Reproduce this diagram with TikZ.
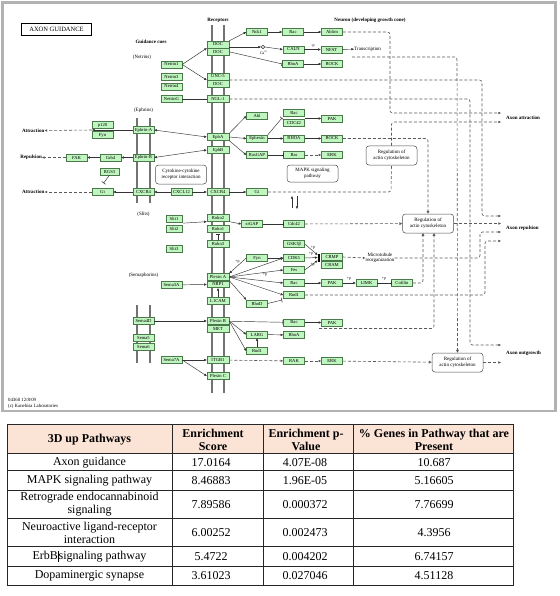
\documentclass[tikz,border=0pt]{standalone}
\usepackage{fontspec}
\setmainfont{Liberation Serif}
\usetikzlibrary{arrows.meta}
\definecolor{gfill}{HTML}{BFF5BF}
\definecolor{gedge}{HTML}{4A7A4A}
\definecolor{hdr}{HTML}{FBE4D5}
\newcommand\kgf{\fontsize{4.6}{5}\selectfont}
\newcommand\klf{\fontsize{5}{5.6}\selectfont}
\newcommand\ksf{\fontsize{4}{4.5}\selectfont}
\newcommand\ktf{\fontsize{12}{13}\selectfont}
\begin{document}
\begin{tikzpicture}[x=1pt,y=-1pt,
  >={Triangle[length=2.6pt,width=2.2pt]},
  gene/.style={draw=gedge,fill=gfill,line width=0.5pt,minimum width=21pt,minimum height=6.8pt,inner sep=0pt,font=\kgf},
  rec/.style={gene,minimum width=22pt},
  slit/.style={gene,minimum width=16pt},
  con/.style={draw=black!80,line width=0.45pt},
  act/.style={con,->},
  bi/.style={con,<->},
  inh/.style={con,-{Bar[width=4.5pt,line width=0.6pt]}},
  dsh/.style={draw=black!65,line width=0.6pt,dash pattern=on 3pt off 2pt,rounded corners=2.5pt},
  dact/.style={dsh,->},
  dopen/.style={dsh,-{Triangle[open,length=2.8pt,width=2.8pt]}},
  membrane/.style={draw=black!55,line width=1.8pt},
  rbox/.style={draw=black!70,rounded corners=3pt,line width=0.5pt,minimum width=51pt,minimum height=19pt,align=center,font=\klf,fill=white,inner sep=0pt},
  lbl/.style={font=\klf,inner sep=0pt,align=center},
  blbl/.style={font=\klf\bfseries,inner sep=0pt},
  sml/.style={font=\ksf,inner sep=0pt},
  tline/.style={draw=black!85,line width=0.6pt},
  tcell/.style={font=\ktf,align=center,inner sep=0pt}
]
\fill[white] (0,0) rectangle (559,596);
\useasboundingbox (0,0) rectangle (559,596);
% KEGG frame
\draw[draw=black!30,line width=2.2pt] (2.5,2.5) rectangle (555.5,411);
% title
\node[draw=black,line width=0.9pt,minimum width=70pt,minimum height=12pt,font=\fontsize{6.5}{7}\selectfont,inner sep=0pt] (title) at (56.5,29.5) {AXON GUIDANCE};
% membranes
\draw[membrane] (212,25) -- (212,393);
\draw[membrane] (224,25) -- (224,393);
\draw[membrane] (137,118) -- (137,203);
\draw[membrane] (150,118) -- (150,203);
\draw[membrane] (137,305) -- (137,363);
\draw[membrane] (150,305) -- (150,363);
% headings
\node[blbl] (hrec) at (218,20) {Receptors};
\node[blbl] (hcue) at (151,41.5) {Guidance cues};
\node[blbl] (hneu) at (370,20) {Neuron (developing growth cone)};
\node[lbl] (hnet) at (142,57) {(Netrins)};
\node[lbl] (heph) at (143.5,110) {(Ephrins)};
\node[lbl] (hsli) at (143.5,214) {(Slits)};
\node[lbl] (hsem) at (143.5,275) {(Semaphorins)};
% receptors
\node[rec] (DOCa) at (218,44.5) {DOC};
\node[rec] (DOCb) at (218,51.8) {DOC};
\node[rec] (UNC5) at (218,76.5) {UNC-5};
\node[rec] (DOCc) at (218,83.8) {DOC};
\node[rec] (NGL1) at (218,99) {NGL-1};
\node[rec] (EphA) at (218,137) {EphA};
\node[rec] (EphB) at (218,150) {EphB};
\node[rec] (CXCR4r) at (218,192) {CXCR4};
\node[rec] (Robo2) at (218,218) {Robo2};
\node[rec] (Robo1) at (218,229) {Robo1};
\node[rec] (Robo3) at (218,244) {Robo3};
\node[rec] (PlexA) at (218,277) {Plexin A};
\node[rec] (NRP1) at (218,284.3) {NRP1};
\node[rec] (L1CAM) at (218,300.5) {L1CAM};
\node[rec] (PlexB) at (218,321) {Plexin B};
\node[rec] (MET) at (218,328.6) {MET};
\node[rec] (ITGB1) at (218,360) {ITGB1};
\node[rec] (PlexC) at (218,376) {Plexin C};
% ligands
\node[gene] (Net1) at (171.5,64.5) {Netrin1};
\node[gene] (Net3) at (171.5,77) {Netrin3};
\node[gene] (Net4) at (171.5,86.5) {Netrin4};
\node[gene] (NetG) at (171.5,99) {NetrinG};
\node[gene] (Sema3A) at (171.5,285) {Sema3A};
\node[gene] (Sema7A) at (171.5,360) {Sema7A};
\node[gene] (CXCL12) at (181.5,192) {CXCL12};
\node[slit] (Slit1) at (174,219) {Slit1};
\node[slit] (Slit2) at (174,229) {Slit2};
\node[slit] (Slit3) at (174,248.5) {Slit3};
\node[gene] (EphrinA) at (143.5,130) {Ephrin-A};
\node[gene] (EphrinB) at (143.5,157.5) {Ephrin-B};
\node[gene] (CXCR4l) at (143.5,192) {CXCR4};
\node[gene] (Sema4D) at (143.5,321) {Sema4D};
\node[gene] (Sema5) at (143.5,337.5) {Sema5};
\node[gene] (Sema6) at (143.5,346.5) {Sema6};
% left side
\node[gene] (p120) at (102.5,125) {p120};
\node[gene] (FynA) at (102.5,135) {Fyn};
\node[gene] (Grb4) at (110.5,157.5) {Grb4};
\node[gene] (FAK) at (76.5,157.5) {FAK};
\node[gene,minimum width=19pt] (RGS3) at (109.5,171.5) {RGS3};
\node[gene] (GiL) at (102.5,192) {Gi};
\node[blbl,anchor=east] (att1) at (44.5,130.5) {Attraction};
\node[blbl,anchor=east] (rep1) at (42,157.5) {Repulsion};
\node[blbl,anchor=east] (att2) at (44.5,192) {Attraction};
% column 257
\node[gene] (Nck1) at (257,32) {Nck1};
\node[gene] (Abl) at (257,116) {Abl};
\node[gene] (Ephexin) at (257,138.5) {Ephexin};
\node[gene] (RasGAP) at (257,155) {RasGAP};
\node[gene] (GiR) at (257,192) {Gi};
\node[gene] (srGAP) at (252,224) {srGAP};
\node[gene] (FynB) at (257,258) {Fyn};
\node[gene] (RhoD) at (257,303.5) {RhoD};
\node[gene] (LARG) at (257,334.5) {LARG};
\node[gene] (RndB) at (257,351) {Rnd1};
% column 294
\node[gene] (RacA) at (293,32) {Rac};
\node[gene] (CALN) at (293.5,49.5) {CALN};
\node[gene] (RhoAa) at (293,64) {RhoA};
\node[gene] (RacB) at (294,113) {Rac};
\node[gene] (CDC42) at (294,123) {CDC42};
\node[gene] (RHOAb) at (294,138.5) {RHOA};
\node[gene] (Ras) at (294,155) {Ras};
\node[gene] (Cdc42) at (294,224) {Cdc42};
\node[gene] (GSK) at (294,244) {GSK3β};
\node[gene] (CDK5) at (294,258) {CDK5};
\node[gene] (Fes) at (294,270) {Fes};
\node[gene] (RacC) at (294,283) {Rac};
\node[gene] (RndA) at (294,295) {Rnd1};
\node[gene] (RacD) at (294,322.5) {Rac};
\node[gene] (RhoAc) at (294,335) {RhoA};
\node[gene] (RAK) at (294,361) {RAK};
% column 332
\node[gene] (Ablim) at (332,32) {Ablim};
\node[gene] (NFAT) at (331.5,49.5) {NFAT};
\node[gene] (ROCKa) at (332,64) {ROCK};
\node[gene] (PAKa) at (332,118.5) {PAK};
\node[gene] (ROCKb) at (332,138.5) {ROCK};
\node[gene] (ERKa) at (332,155) {ERK};
\node[gene] (CRMP) at (332,257) {CRMP};
\node[gene] (CRAM) at (332,264.6) {CRAM};
\node[gene] (PAKb) at (332,283) {PAK};
\node[gene] (PAKc) at (332,322.5) {PAK};
\node[gene] (ERKb) at (332,361) {ERK};
\node[gene] (LIMK) at (366.5,283) {LIMK};
\node[gene] (Cofilin) at (402,283) {Cofilin};
% rounded boxes
\node[rbox] (cyto) at (181,174.5) {Cytokine-cytokine\\receptor interaction};
\node[rbox,minimum height=17pt] (mapk) at (312.5,173.5) {MAPK signaling\\pathway};
\node[rbox] (regA) at (391.5,155.5) {Regulation of\\actin cytoskeleton};
\node[rbox] (regB) at (428,223.5) {Regulation of\\actin cytoskeleton};
\node[rbox] (regC) at (457.5,362.5) {Regulation of\\actin cytoskeleton};
% Ca and small labels
\node[draw=black!80,circle,line width=0.45pt,minimum size=3.4pt,inner sep=0pt] (Ca) at (263,47) {};
\node[sml] (calbl) at (264,52.8) {Ca\textsuperscript{2+}};
\node[lbl,anchor=west] (trans) at (354,49) {Transcription};
\node[lbl] (micro) at (380,258) {Microtubule\\reorganization};
\node[sml] (mp1) at (313,45.5) {-p};
\node[sml] (pp1) at (313,247.5) {+p};
\node[sml] (pp2) at (311,254) {+p};
\node[sml] (pp3) at (312.5,265) {+p};
\node[sml] (pp4) at (237.5,262) {+p};
\node[sml] (pp5) at (265,274.5) {+p};
\node[sml] (pp6) at (349,279) {+p};
\node[sml] (pp7) at (384,279) {+p};
% right labels
\node[blbl,anchor=west] (axatt) at (506,118) {Axon attraction};
\node[blbl,anchor=west] (axrep) at (506,228) {Axon repulsion};
\node[blbl,anchor=west] (axout) at (506,353) {Axon outgrowth};
\coordinate (ta1) at (501,113);
\coordinate (ta2) at (501,122);
\coordinate (tr1) at (501,216);
\coordinate (tr2) at (501,223.5);
\coordinate (tr3) at (501,232);
\coordinate (tr4) at (501,241);
\coordinate (to1) at (501,345);
\coordinate (to2) at (501,362.5);
\coordinate (pg) at (92,130);
\coordinate (trs) at (352,57);
\coordinate (pakl) at (319,328.5);
% crmp bar
\fill[black] (317.6,253.5) rectangle (320.4,262);
% caption
\node[font=\fontsize{4.8}{5.4}\selectfont,anchor=west,align=left,inner sep=0pt] (cap) at (8,403.3) {04360 12/8/09\\(c) Kanehisa Laboratories};
% ---------- solid connectors
\draw[act] (Net1.east) -- (DOCa.south west);
\draw[act] (Net1.east) -- (DOCc.north west);
\draw[con] (NetG) -- (NGL1);
\draw[act] (DOCa.north east) -- (Nck1.west);
\draw[act] (DOCa.east) ++(0,2.5) -- (Ca.west);
\draw[act] (Ca.east) -- (CALN.west);
\draw[inh] (DOCb.east) -- (RhoAa.west);
\draw[act] (Nck1) -- (RacA);
\draw[act] (RacA) -- (Ablim);
\draw[act] (CALN) -- (NFAT);
\draw[act] (RhoAa) -- (ROCKa);
\draw[act] (NFAT) -- (trans);
\draw[bi] (EphrinA.east) -- (EphA.west);
\draw[bi] (EphrinB.east) -- (EphB.west);
\draw[act] (EphrinA.west) -- (pg);
\draw[act] (EphrinB) -- (Grb4);
\draw[act] (Grb4) -- (FAK);
\draw[inh] (RGS3.south) -- ++(-6,8);
\draw[act] (CXCR4l) -- (GiL);
\draw[act] (CXCL12) -- (CXCR4l);
\draw[act] (CXCL12) -- (CXCR4r);
\draw[act] (CXCR4r) -- (GiR);
\draw[act] (EphA.north east) -- (Abl.west);
\draw[act] (EphA.east) -- (Ephexin.west);
\draw[act] (EphA.south east) -- (RasGAP.west);
\draw[inh] (Ephexin.north east) -- (282,118);
\draw[act] (305,118.5) -- (PAKa.west);
\draw[act] (Ephexin) -- (RHOAb);
\draw[act] (RHOAb) -- (ROCKb);
\draw[inh] (RasGAP) -- (Ras);
\draw[act] (292,208) -- (292,196);
\draw[act] (297,196) -- (297,209);
\draw[act] (Slit1.south east) ++(1,0.5) -- (Robo2.south west);
\draw[act] (Robo2.south east) -- (srGAP.west);
\draw[inh] (srGAP) -- (Cdc42);
\draw[inh] (Robo3.north) -- (218,234.2);
\draw[act] (Sema3A) -- (NRP1);
\draw[act] (L1CAM.north) -- (NRP1.south);
\draw[act] (FynB.west) -- (PlexA.north east);
\draw[act] (PlexA.east) -- (CDK5.west);
\draw[act] (FynB) -- (CDK5);
\draw[act] (PlexA.east) -- (Fes.west);
\draw[act] (PlexA.east) -- (RacC.west);
\draw[act] (PlexA.east) -- (RndA.west);
\draw[act] (PlexA.south east) -- (RhoD.north west);
\draw[inh] (RhoD.east) -- (282,300);
\draw[act] (GSK.east) -- (317.6,255);
\draw[act] (CDK5.east) -- (317.6,257.5);
\draw[act] (Fes.east) -- (317.6,260.5);
\draw[act] (RacC) -- (PAKb);
\draw[act] (PAKb) -- (LIMK);
\draw[inh] (LIMK) -- (Cofilin);
\draw[act] (Sema4D) -- (PlexB);
\draw[act] (Sema7A) -- (ITGB1);
\draw[act] (Sema7A.east) -- (PlexC.west);
\draw[inh] (PlexB) -- (RacD);
\draw[act] (RacD) -- (PAKc);
\draw[act] (PlexB.east) -- (LARG.west);
\draw[act] (PlexB.east) -- (RndB.west);
\draw[act] (RndB) -- (LARG);
\draw[act] (LARG) -- (RhoAc);
% ---------- dashed connectors
\draw[dact] (pg) -- (att1.east);
\draw[dact] (FAK) -- (rep1.east);
\draw[dact] (GiL) -- (att2.east);
\draw[dact] (Ablim.east) -- (390,32) -- (390,113) -- (ta1);
\draw[dopen] (trs) -- (457,57) -- (regC.north);
\draw[dact] (UNC5.east |- 0,80) -- (482,80) -- (482,216) -- (tr1);
\draw[dact] (NGL1.east) -- (470,99) -- (470,345) -- (to1);
\draw[dopen] (ROCKb.east) -- (428,138.5) -- (regB.north);
\draw[dsh] (GiR.east) -- (391,192) -- (regA.south);
\draw[dact] (regA.north) -- (391.5,122) -- (ta2);
\draw[dact] (Ras) -- (ERKa);
\draw[dopen] (Cdc42) -- (regB);
\draw[dact] (regB.east) -- (tr2);
\draw[dact] (CRMP.east) -- (micro.west);
\draw[dact] (micro.east) -- (480,258) -- (480,232) -- (tr3);
\draw[dopen] (Cofilin.east) -- (423,283) -- (423,233);
\draw[dopen] (pakl) -- (434,328.5) -- (434,233);
\draw[dact] (RndA.east) -- (485,295) -- (485,241) -- (tr4);
\draw[dact] (ITGB1) -- (RAK);
\draw[dact] (RAK) -- (ERKb);
\draw[dopen] (ERKb) -- (regC);
\draw[dact] (regC.east) -- (to2);
% ---------- table
\fill[hdr] (7,424) rectangle (513,453.3);
\draw[tline] (7,424) rectangle (513,585);
\foreach \yy in {453.3,470.7,490,518.3,546.7,566} \draw[tline] (7,\yy) -- (513,\yy);
\foreach \xx in {172,263,353} \draw[tline] (\xx,424) -- (\xx,585);
\node[tcell] (h1) at (89.5,439.5) {\bfseries 3D up Pathways};
\node[tcell] (h2) at (213,439.5) {\bfseries Enrichment\\\bfseries Score};
\node[tcell] (h3) at (306,439.5) {\bfseries Enrichment p-\\\bfseries Value};
\node[tcell] (h4) at (434,439.5) {\bfseries \% Genes in Pathway that are\\\bfseries Present};
\node[tcell] (r1a) at (89.5,462.5) {Axon guidance};
\node[tcell] (r1b) at (211,462.5) {17.0164};
\node[tcell] (r1c) at (305,462.5) {4.07E-08};
\node[tcell] (r1d) at (434,462.5) {10.687};
\node[tcell] (r2a) at (89.5,481) {MAPK signaling pathway};
\node[tcell] (r2b) at (211,481) {8.46883};
\node[tcell] (r2c) at (305,481) {1.96E-05};
\node[tcell] (r2d) at (434,481) {5.16605};
\node[tcell] (r3a) at (89.5,504.5) {Retrograde endocannabinoid\\signaling};
\node[tcell] (r3b) at (211,504.5) {7.89586};
\node[tcell] (r3c) at (305,504.5) {0.000372};
\node[tcell] (r3d) at (434,504.5) {7.76699};
\node[tcell] (r4a) at (89.5,533) {Neuroactive ligand-receptor\\interaction};
\node[tcell] (r4b) at (211,533) {6.00252};
\node[tcell] (r4c) at (305,533) {0.002473};
\node[tcell] (r4d) at (434,533) {4.3956};
\node[tcell] (r5a) at (89.5,556.5) {ErbB\rule[-2pt]{0.7pt}{11pt}signaling pathway};
\node[tcell] (r5b) at (211,556.5) {5.4722};
\node[tcell] (r5c) at (305,556.5) {0.004202};
\node[tcell] (r5d) at (434,556.5) {6.74157};
\node[tcell] (r6a) at (89.5,575.7) {Dopaminergic synapse};
\node[tcell] (r6b) at (211,575.7) {3.61023};
\node[tcell] (r6c) at (305,575.7) {0.027046};
\node[tcell] (r6d) at (434,575.7) {4.51128};
\end{tikzpicture}
\end{document}
